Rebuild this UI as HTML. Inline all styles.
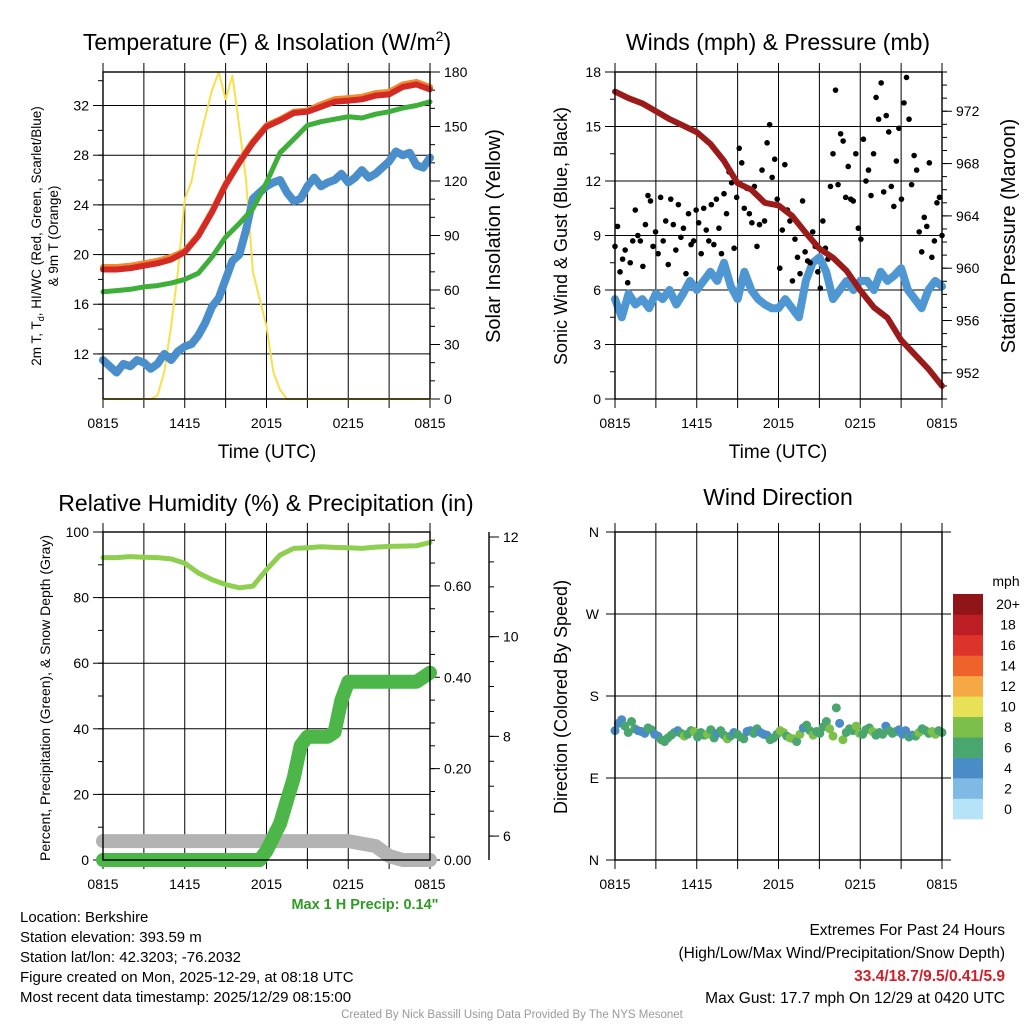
<!DOCTYPE html>
<html><head><meta charset="utf-8"><style>
html,body{margin:0;padding:0;background:#fff;}
svg{display:block;font-family:"Liberation Sans",sans-serif;}
</style></head><body>
<svg id="fig" width="1024" height="1024" viewBox="0 0 1024 1024">
<g id="texts">
<text x="267" y="50" font-size="23" text-anchor="middle">Temperature (F) &amp; Insolation (W/m<tspan dy="-9" font-size="14">2</tspan><tspan dy="9">)</tspan></text>
<text x="778" y="50" font-size="23" text-anchor="middle">Winds (mph) &amp; Pressure (mb)</text>
<text x="266" y="511" font-size="23" text-anchor="middle">Relative Humidity (%) &amp; Precipitation (in)</text>
<text x="778" y="505" font-size="23" text-anchor="middle">Wind Direction</text>
<text x="267" y="458" font-size="19" text-anchor="middle">Time (UTC)</text>
<text x="778" y="458" font-size="19" text-anchor="middle">Time (UTC)</text>
<text transform="translate(41,236) rotate(-90)" font-size="13.5" text-anchor="middle">2m T, T<tspan dy="3" font-size="9">d</tspan><tspan dy="-3">, HI/WC (Red, Green, Scarlet/Blue)</tspan></text>
<text transform="translate(58,236) rotate(-90)" font-size="13.5" text-anchor="middle">&amp; 9m T (Orange)</text>
<text transform="translate(500,236) rotate(-90)" font-size="20" text-anchor="middle">Solar Insolation (Yellow)</text>
<text transform="translate(567,236) rotate(-90)" font-size="18" text-anchor="middle">Sonic Wind &amp; Gust (Blue, Black)</text>
<text transform="translate(1015,236) rotate(-90)" font-size="20" text-anchor="middle">Station Pressure (Maroon)</text>
<text transform="translate(50,698) rotate(-90)" font-size="14" text-anchor="middle">Percent, Precipitation (Green), &amp; Snow Depth (Gray)</text>
<text transform="translate(567,697) rotate(-90)" font-size="18" text-anchor="middle">Direction (Colored By Speed)</text>
<text x="365" y="909" font-size="14.5" font-weight="bold" fill="#2f9a24" text-anchor="middle">Max 1 H Precip: 0.14"</text>
<g font-size="15">
<text x="20" y="922">Location: Berkshire</text>
<text x="20" y="942">Station elevation: 393.59 m</text>
<text x="20" y="962">Station lat/lon: 42.3203; -76.2032</text>
<text x="20" y="982">Figure created on Mon, 2025-12-29, at 08:18 UTC</text>
<text x="20" y="1002">Most recent data timestamp: 2025/12/29 08:15:00</text>
</g>
<g font-size="15.5" text-anchor="end">
<text x="1005" y="935">Extremes For Past 24 Hours</text>
<text x="1005" y="958">(High/Low/Max Wind/Precipitation/Snow Depth)</text>
<text x="1005" y="981" font-weight="bold" fill="#d0202a">33.4/18.7/9.5/0.41/5.9</text>
<text x="1005" y="1003">Max Gust: 17.7 mph On 12/29 at 0420 UTC</text>
</g>
<text x="512" y="1018" font-size="11.5" fill="#999" text-anchor="middle">Created By Nick Bassill Using Data Provided By The NYS Mesonet</text>
</g>
</svg>
<script>
// ---------- data ----------
const xTicks = ["0815","1415","2015","0215","0815"];
const tempHours = [0,1,2,3,4,5,6,7,8,9,10,11,12,13,14,15,16,17,18,19,20,21,22,23,24];
const tempRed = [18.8,18.8,18.9,19.1,19.3,19.6,20.2,21.5,23.4,25.6,27.4,29.0,30.3,30.8,31.4,31.5,31.9,32.3,32.4,32.5,32.8,32.9,33.5,33.7,33.3];
const tempOrange = [19.0,19.0,19.1,19.3,19.5,19.8,20.3,21.6,23.5,25.7,27.5,29.1,30.4,30.9,31.5,31.6,32.1,32.5,32.6,32.7,33.0,33.1,33.7,33.9,33.5];
const tempGreen = [17.0,17.1,17.2,17.4,17.5,17.7,18.0,18.5,19.8,21.4,22.5,23.7,25.8,28.2,29.3,30.4,30.7,30.9,31.1,31.0,31.3,31.5,31.8,32.0,32.3];
const halfHours = [0,0.5,1,1.5,2,2.5,3,3.5,4,4.5,5,5.5,6,6.5,7,7.5,8,8.5,9,9.5,10,10.5,11,11.5,12,12.5,13,13.5,14,14.5,15,15.5,16,16.5,17,17.5,18,18.5,19,19.5,20,20.5,21,21.5,22,22.5,23,23.5,24];
const tempBlue = [11.5,11.0,10.5,11.2,11.0,11.5,11.3,10.8,11.2,12.0,11.5,12.2,12.6,12.8,13.5,14.5,15.8,16.5,18.0,19.5,20.0,22.0,24.5,25.0,25.5,25.8,26.0,25.0,24.3,24.5,25.5,26.2,25.5,25.8,26.0,26.5,25.8,26.2,26.8,26.2,26.5,27.0,27.5,28.3,28.0,28.2,27.2,27.0,27.8];
const solar = [0,0,0,0,0,0,0,0,2,15,40,70,110,120,140,155,170,180,165,178,150,120,70,55,40,15,5,0,0,0,0,0,0,0,0,0,0,0,0,0,0,0,0,0,0,0,0,0,0];
const windSpeed = [5.5,4.5,5.8,5.2,5.5,5.0,5.8,5.5,6.0,5.2,5.8,6.5,6.0,6.5,7.0,6.5,7.5,6.2,5.5,7.0,6.0,5.5,5.2,5.0,5.0,5.5,5.0,4.5,6.5,7.5,7.8,7.0,5.5,6.0,6.5,6.0,6.5,6.5,6.0,7.0,6.5,6.8,7.2,6.0,5.5,5.0,6.0,6.5,6.2];
const pressure = [973.5,973.0,972.6,972.0,971.4,970.9,970.4,969.5,968.2,966.5,966.0,965.0,964.8,964.0,962.7,961.5,960.8,959.8,958.3,957.0,956.2,954.5,953.4,952.3,951.0];
const gusts = [8.4,9.5,7.0,7.7,8.2,6.4,7.5,8.7,10.4,9.0,8.7,7.3,9.6,11.2,10.9,8.4,9.2,8.0,11.1,8.7,
9.8,7.4,11.0,9.6,8.2,10.7,8.9,9.4,6.9,10.2,8.5,8.7,10.4,9.7,8.0,10.5,9.3,8.7,10.7,8.5,
11.0,9.4,8.0,11.3,10.2,12.5,11.9,8.3,11.1,13.8,13.0,10.5,11.6,10.2,9.7,11.7,8.4,9.6,12.6,9.8,
14.1,15.1,12.2,13.2,11.0,7.2,9.3,12.9,10.4,9.8,6.5,8.8,7.8,6.9,10.9,8.1,7.6,7.5,9.2,8.4,
7.0,6.1,9.8,8.3,7.7,11.7,13.5,17.0,11.8,14.6,14.2,11.1,12.8,11.0,10.9,13.5,9.4,8.8,14.3,12.0,
12.6,11.2,13.5,16.6,15.4,17.4,11.4,15.6,14.7,11.7,10.6,13.1,14.9,11.0,16.3,17.7,15.4,11.8,13.4,12.6,
9.2,8.1,10.0,9.5,13.0,7.8,8.7,10.8,11.1,9.0];
const rh = [92.2,92.2,92.5,92.3,92.2,91.8,90.5,87.5,85.5,84.0,83.0,83.5,88.5,93.0,95.0,95.2,95.5,95.3,95.2,95.0,95.4,95.6,95.7,95.8,96.8];
const precip = [0,0,0,0,0,0,0,0,0,0,0,0,0,0,0,0,0,0,0,0,0,0,0,0,0.02,0.05,0.08,0.13,0.18,0.25,0.27,0.27,0.27,0.27,0.28,0.35,0.39,0.39,0.39,0.39,0.39,0.39,0.39,0.39,0.39,0.39,0.39,0.40,0.41];
const snow = [5.9,5.9,5.9,5.9,5.9,5.9,5.9,5.9,5.9,5.9,5.9,5.9,5.9,5.9,5.9,5.9,5.9,5.9,5.9,5.85,5.8,5.6,5.52,5.52,5.52];
const windDir = [142,150,154,147,140,152,144,142,141,139,145,143,138,136,132,130,134,137,140,142,139,136,138,142,141,135,140,137,138,143,134,139,142,137,133,136,140,138,135,133,141,142,139,144,140,138,137,132,134,138,142,140,136,134,133,130,138,145,148,142,137,141,139,146,152,144,136,167,150,132,140,144,142,147,139,138,143,145,141,137,140,138,147,142,139,141,143,138,142,135,137,136,140,144,142,139,141,138,142,140];
const dirSpeed = [4,5,5,6,6,7,6,5,4,5,6,6,4,5,6,6,7,6,6,5,6,8,6,7,8,6,6,7,8,6,6,5,6,7,8,6,5,6,6,7,4,5,6,6,5,4,5,6,6,7,8,8,7,9,8,6,9,5,6,7,8,6,7,7,6,8,9,7,5,8,7,6,7,8,9,6,7,6,8,6,7,6,5,6,6,7,5,4,5,6,5,7,8,6,6,7,8,8,6,7];
const cbLabels = ["0","2","4","6","8","10","12","14","16","18","20+"];
const cbColors = ["#b6e3f8","#7ebae3","#4a8cc6","#4aa66f","#7cc04a","#e7e157","#f5a844","#ee622b","#dc332b","#bd1d25","#8f1519"];

// ---------- helpers ----------
const NS="http://www.w3.org/2000/svg";
const fig=document.getElementById('fig');
function el(tag,attrs,parent){const e=document.createElementNS(NS,tag);for(const k in attrs)e.setAttribute(k,attrs[k]);(parent||fig).appendChild(e);return e;}
function scale(d0,d1,r0,r1){return v=>r0+(v-d0)/(d1-d0)*(r1-r0);}
const L1=103,R1=430,L2=615,R2=942;

function panelFrame(L,R,T,B,name){
  const g=el('g',{});
  
  
  const xs=scale(0,24,L,R);
  for(let h=0;h<=24;h+=3){
    const ln=el('line',{x1:xs(h),x2:xs(h),y1:T-9,y2:B+9,stroke:'#000','stroke-width':1},g);
    
    
  }
  for(let i=0;i<xTicks.length;i++){
    const t=el('text',{x:xs(i*6),y:B+29,'font-size':14,'text-anchor':'middle'},g);
    t.textContent=xTicks[i];
    
    
  }
  return {g,xs};
}
function border(L,R,T,B){
  const r=el('rect',{x:L,y:T,width:R-L,height:B-T,fill:'none',stroke:'#000','stroke-width':1.4});
  
  
}
function yAxis(x,T,B,ys,vals,labels,minor,side,name){
  const g=el('g',{});
  
  
  const dir=side==='left'?-1:1;
  for(const v of minor){const y=ys(v);if(y<T-1||y>B+1)continue;el('line',{x1:x,x2:x+dir*5,y1:y,y2:y,stroke:'#000','stroke-width':1},g);}
  for(let i=0;i<vals.length;i++){
    const y=ys(vals[i]);
    el('line',{x1:x,x2:x+dir*10,y1:y,y2:y,stroke:'#000','stroke-width':1},g);
    const t=el('text',{x:x+dir*14,y:y+5,'font-size':14,'text-anchor':side==='left'?'end':'start'},g);
    t.textContent=labels[i];
    
    
  }
}
function hgrid(L,R,ys,vals,ext){
  for(const v of vals){const ln=el('line',{x1:L-(ext||0),x2:R+(ext||0),y1:ys(v),y2:ys(v),stroke:'#000','stroke-width':1});
    
    }
}
function polyline(xs,ys,hs,vs,color,w,name){
  const pts=hs.map((h,i)=>xs(h).toFixed(1)+','+ys(vs[i]).toFixed(1)).join(' ');
  const p=el('polyline',{points:pts,fill:'none',stroke:color,'stroke-width':w,'stroke-linejoin':'round','stroke-linecap':'round'});
  
  
  return p;
}
function range(a,b,s){const r=[];for(let v=a;v<=b+1e-9;v+=s)r.push(v);return r;}

// ---------- panel 1: temperature ----------
{
  const T=72,B=399;
  const {xs}=panelFrame(L1,R1,T,B,'temperature-panel');
  const yt=scale(8.37,34.7,B,T), ys=scale(0,180,B,T);
  hgrid(L1,R1,yt,[12,16,20,24,28,32]);
  yAxis(L1,T,B,yt,[12,16,20,24,28,32],["12","16","20","24","28","32"],range(10,34,2),'left','temperature-y-axis');
  yAxis(R1,T,B,ys,[0,30,60,90,120,150,180],["0","30","60","90","120","150","180"],range(0,180,10),'right','insolation-y-axis');
  polyline(xs,ys,halfHours,solar,'#f8e04c',2,'solar-insolation-line');
  polyline(xs,yt,halfHours,tempBlue,'#4a8ecb',8,'windchill-line');
  polyline(xs,yt,tempHours,tempGreen,'#3daf3a',5,'dewpoint-line');
  polyline(xs,yt,tempHours,tempOrange,'#f28a30',6,'9m-temperature-line');
  polyline(xs,yt,tempHours,tempRed,'#d42a25',6,'2m-temperature-line');
  border(L1,R1,T,B);
}
// ---------- panel 2: winds ----------
{
  const T=72,B=399;
  const {xs}=panelFrame(L2,R2,T,B,'winds-panel');
  const yw=scale(0,18,B,T), yp=scale(950,975,B,T);
  hgrid(L2,R2,yw,[3,6,9,12,15,18]);
  yAxis(L2,T,B,yw,[0,3,6,9,12,15,18],["0","3","6","9","12","15","18"],range(0,18,1.5),'left','wind-y-axis');
  yAxis(R2,T,B,yp,[952,956,960,964,968,972],["952","956","960","964","968","972"],range(950,975,1),'right','pressure-y-axis');
  polyline(xs,yw,halfHours,windSpeed,'#4f97d2',8,'sonic-wind-line');
  const n=gusts.length;
  for(let i=0;i<n;i++){
    const c=el('circle',{cx:xs(i*24/(n-1)),cy:yw(gusts[i]),r:2.8,fill:'#000'});
    
    
  }
  polyline(xs,yp,tempHours,pressure,'#9b1a1a',6,'station-pressure-line');
  border(L2,R2,T,B);
}
// ---------- panel 3: humidity ----------
{
  const T=532,B=860;
  const {xs}=panelFrame(L1,R1,T,B,'humidity-panel');
  const yr=scale(0,100,B,T), yq=scale(0,0.718,B,T), yn=scale(5.52,12.1,B,T);
  hgrid(L1,R1,yr,[20,40,60,80,100]);
  yAxis(L1,T,B,yr,[0,20,40,60,80,100],["0","20","40","60","80","100"],range(0,100,10),'left','humidity-y-axis');
  yAxis(R1,T,B,yq,[0,0.2,0.4,0.6],["0.00","0.20","0.40","0.60"],range(0,0.7,0.05),'right','precip-y-axis');
  const sx=489;
  const sl=el('line',{x1:sx,x2:sx,y1:T,y2:B,stroke:'#000','stroke-width':1.4});
  
  
  yAxis(sx,T,B,yn,[6,8,10,12],["6","8","10","12"],range(6,12,0.5),'right','snow-y-axis');
  polyline(xs,yn,tempHours,snow,'#b3b3b3',14,'snow-depth-line');
  polyline(xs,yq,halfHours,precip,'#4cb648',14,'precipitation-line');
  polyline(xs,yr,tempHours,rh,'#8fcf50',5,'relative-humidity-line');
  border(L1,R1,T,B);
}
// ---------- panel 4: wind direction ----------
{
  const T=532,B=860;
  const {xs}=panelFrame(L2,R2,T,B,'direction-panel');
  const yd=scale(0,360,B,T);
  hgrid(L2,R2,yd,[0,90,180,270,360],9);
  const dl=["N","E","S","W","N"];
  for(let i=0;i<5;i++){
    const t=el('text',{x:L2-16,y:yd(i*90)+5,'font-size':14,'text-anchor':'end'});
    t.textContent=dl[i];
    
    
  }
  const n=windDir.length;
  for(let i=0;i<n;i++){
    const bin=Math.min(10,Math.floor(dirSpeed[i]/2));
    const c=el('circle',{cx:xs(i*24/(n-1)),cy:yd(windDir[i]),r:4.5,fill:cbColors[bin]});
    
    
  }
  border(L2,R2,T,B);
  const cb=el('g',{});
  
  
  const h=225/11;
  for(let i=0;i<11;i++){
    const y=819-(i+1)*h;
    el('rect',{x:953,y:y,width:30,height:h+0.3,fill:cbColors[i]},cb);
    const t=el('text',{x:1008,y:y+h/2+5,'font-size':14,'text-anchor':'middle'},cb);
    t.textContent=cbLabels[i];
    
    
  }
  const u=el('text',{x:1006,y:586,'font-size':14,'text-anchor':'middle'},cb);
  u.textContent='mph';
  
  
}
fig.appendChild(document.getElementById('texts'));
</script>
</body></html>
